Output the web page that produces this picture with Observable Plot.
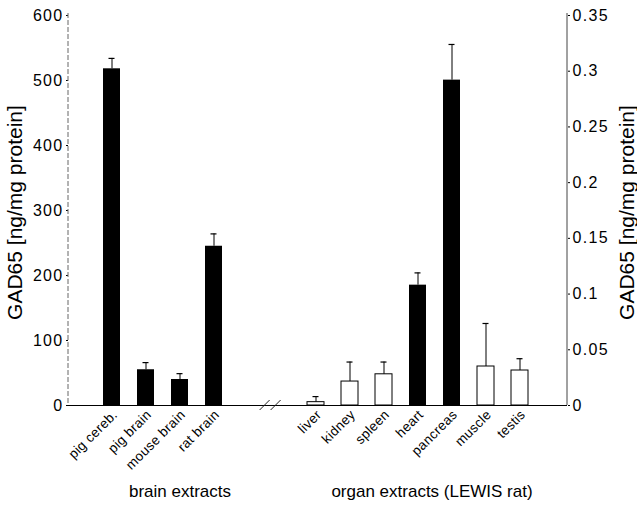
<!DOCTYPE html>
<html><head><meta charset="utf-8">
<script src="https://cdn.jsdelivr.net/npm/d3@7"></script>
<script src="https://cdn.jsdelivr.net/npm/@observablehq/plot@0.6"></script>
<style>
body{margin:0;background:#fff;font-family:"Liberation Sans",Arial,sans-serif}
g[aria-label="y-axis tick label"] text{letter-spacing:1.3px}
g[aria-label="x-axis tick label"] text{letter-spacing:0.3px}
g[aria-label="axis-title"] text{letter-spacing:0.4px}
g[aria-label="group-title"] text{letter-spacing:0.9px}
</style>
</head><body><div id="chart"></div>
<script>
// ---- data ----
const brainCategories = ["pig cereb.", "pig brain", "mouse brain", "rat brain"];
const brainValues = [518, 55, 40, 245];          // ng/mg protein (left axis)
const brainErrors = [534, 66, 49, 264];          // top of error bar
const organCategories = ["liver", "kidney", "spleen", "heart", "pancreas", "muscle", "testis"];
const organValues = [0.003, 0.0215, 0.028, 0.108, 0.292, 0.035, 0.0314]; // right axis
const organErrors = [0.008, 0.039, 0.039, 0.119, 0.324, 0.0736, 0.042];
const leftTicks = [0, 100, 200, 300, 400, 500, 600];
const rightTicks = [0, 0.05, 0.1, 0.15, 0.2, 0.25, 0.3, 0.35];
const groupLabels = ["brain extracts", "organ extracts (LEWIS rat)"];
const axisLabel = "GAD65 [ng/mg protein]";
const darkBars = ["pig cereb.", "pig brain", "mouse brain", "rat brain", "heart", "pancreas"];

// ---- derived ----
const K = 600 / 0.35; // right-axis units -> left-axis units
const spacers = ["gap1", "gap2"];
const domain = [...brainCategories, ...spacers, ...organCategories];
const rows = [
  ...brainCategories.map((c, i) => ({cat: c, v: brainValues[i], e: brainErrors[i]})),
  ...organCategories.map((c, i) => ({cat: c, v: organValues[i] * K, e: organErrors[i] * K}))
];
const isDark = d => darkBars.includes(d.cat);
const font = "Liberation Sans, Arial, Helvetica, sans-serif";

function decorations(index, scales, values, dims) {
  const g = d3.create("svg:g");
  const top = dims.marginTop - 2, bottom = dims.height - dims.marginBottom;
  const xl = dims.marginLeft, xr = dims.width - dims.marginRight;
  g.append("line").attr("x1", xl).attr("x2", xl).attr("y1", top).attr("y2", bottom)
    .attr("stroke", "#666").attr("stroke-width", 1).attr("stroke-dasharray", "5,2");
  g.append("line").attr("x1", xr).attr("x2", xr).attr("y1", top).attr("y2", bottom)
    .attr("stroke", "#444").attr("stroke-width", 1);
  // axis break "//"
  const bw = scales.x.bandwidth();
  const a = scales.x(spacers[0]) + bw / 2, b = scales.x(spacers[1]) + bw / 2;
  const cx = a + 0.65 * (b - a);
  for (const off of [-5, 6]) {
    g.append("line").attr("x1", cx + off - 5).attr("x2", cx + off + 5)
      .attr("y1", bottom + 5).attr("y2", bottom - 5)
      .attr("stroke", "#222").attr("stroke-width", 1);
  }
  return g.node();
}

const plot = Plot.plot({
  width: 637, height: 506,
  marginLeft: 68, marginRight: 70, marginTop: 15, marginBottom: 101,
  style: {fontFamily: font, background: "white", color: "black"},
  x: {type: "band", domain, paddingInner: 0.5, paddingOuter: 0.98, align: 0.47, axis: null},
  y: {domain: [0, 600], axis: null},
  marks: [
    Plot.ruleY([0], {stroke: "black", strokeWidth: 1.2}),
    Plot.barY(rows.filter(isDark), {x: "cat", y: "v", fill: "black"}),
    Plot.barY(rows.filter(d => !isDark(d)), {x: "cat", y: "v", fill: "white", stroke: "black", strokeWidth: 1}),
    Plot.ruleX(rows, {x: "cat", y1: "v", y2: "e", stroke: "black", strokeWidth: 1}),
    Plot.tickY(rows, {x: "cat", y: "e", stroke: "black", strokeWidth: 1.2, insetLeft: 5.5, insetRight: 5.5}),
    Plot.axisY(leftTicks, {anchor: "left", tickSize: 2, tickPadding: 3, fontSize: 16, label: null}),
    Plot.axisY(rightTicks, {y: d => d * K, anchor: "right", tickSize: 2, tickPadding: 3, fontSize: 16, label: null, tickFormat: d => String(d)}),
    Plot.axisX({ticks: [...brainCategories, ...organCategories], tickRotate: -45, tickSize: 0, tickPadding: 7, dx: 3, fontSize: 13.5, label: null}),
    Plot.text([axisLabel], {frameAnchor: "left", textAnchor: "middle", rotate: -90, dx: -53, dy: 2, fontSize: 21, fill: "black", ariaLabel: "axis-title"}),
    Plot.text([axisLabel], {frameAnchor: "right", textAnchor: "middle", rotate: -90, dx: 60, dy: 2, fontSize: 21, fill: "black", ariaLabel: "axis-title"}),
    Plot.text([{cat: "mouse brain", label: groupLabels[0]}], {x: "cat", text: "label", frameAnchor: "bottom", dy: 91, fontSize: 17, fill: "black", ariaLabel: "group-title"}),
    Plot.text([{cat: "heart", label: groupLabels[1]}], {x: "cat", text: "label", frameAnchor: "bottom", dy: 91, dx: 14, fontSize: 17, fill: "black", ariaLabel: "group-title"}),
    decorations
  ]
});
document.getElementById("chart").append(plot);
</script>
</body></html>
